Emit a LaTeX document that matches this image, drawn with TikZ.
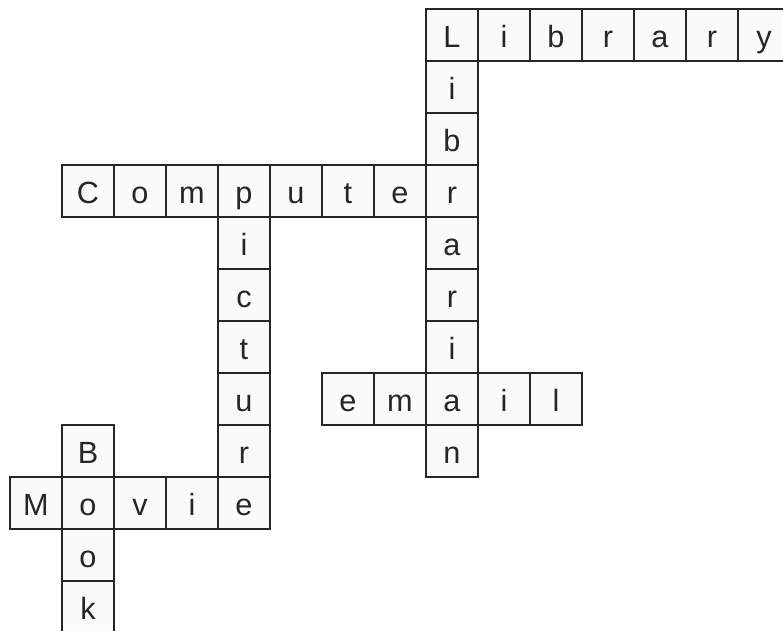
\documentclass[tikz,border=0pt]{standalone}
\usepackage{fontspec}
\setmainfont{Liberation Sans}
\definecolor{gridline}{HTML}{262626}
\definecolor{cellfill}{HTML}{FAFAFA}
\tikzset{
    % Crossword cell - light square with one letter
    cell/.style={rectangle, draw=gridline, fill=cellfill, line width=1pt,
        minimum size=39pt, inner sep=0pt, text=gridline,
        text height=18.5pt, text depth=0pt, font=\fontsize{23}{23}\selectfont}
}

\begin{document}
\begin{tikzpicture}[x=39pt, y=-39pt]
    % --- Canvas (the grid is cut at the right and bottom) ---
    \useasboundingbox (-27pt,26.25pt) rectangle (560.25pt,-447pt);
    \clip (-27pt,26.25pt) rectangle (560.25pt,-447pt);

    % --- Across words ---
    % Library
    \foreach \ch [count=\i from 0] in {L,i,b,r,a,r,y}
        \node[cell] (library-\i) at (8+\i,0) {\ch};
    % Computer
    \foreach \ch [count=\i from 1] in {C,o,m,p,u,t,e,r}
        \node[cell] (computer-\i) at (\i,3) {\ch};
    % email
    \foreach \ch [count=\i from 6] in {e,m,a,i,l}
        \node[cell] (email-\i) at (\i,7) {\ch};
    % Movie
    \foreach \ch [count=\i from 0] in {M,o,v,i,e}
        \node[cell] (movie-\i) at (\i,9) {\ch};

    % --- Down words (shared letters already drawn) ---
    % Librarian
    \foreach \ch/\r in {i/1,b/2,a/4,r/5,i/6,n/8}
        \node[cell] (librarian-\r) at (8,\r) {\ch};
    % picture
    \foreach \ch/\r in {i/4,c/5,t/6,u/7,r/8}
        \node[cell] (picture-\r) at (4,\r) {\ch};
    % Book
    \foreach \ch/\r in {B/8,o/10,k/11}
        \node[cell] (book-\r) at (1,\r) {\ch};
\end{tikzpicture}
\end{document}
